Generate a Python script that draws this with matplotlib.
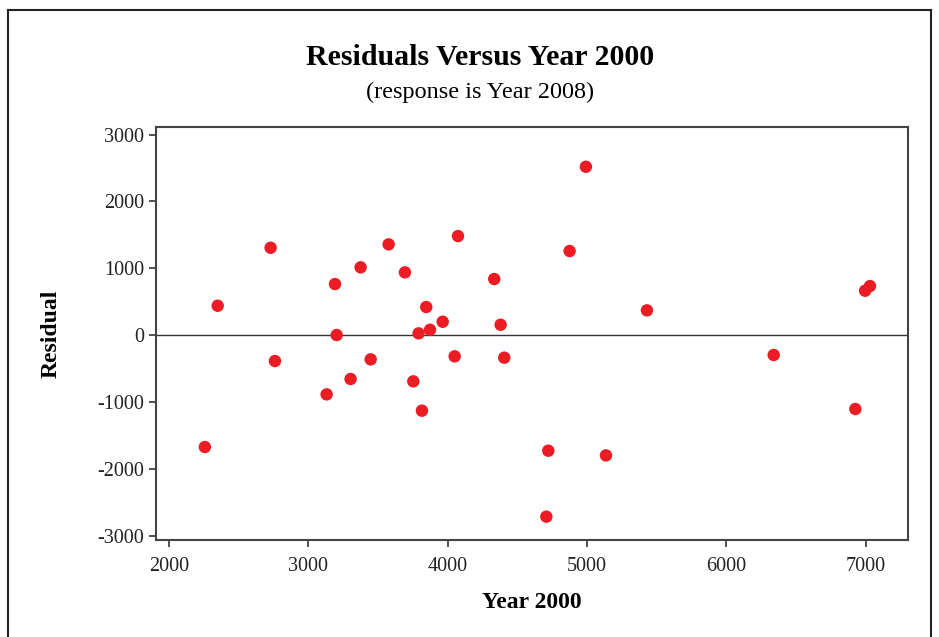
import matplotlib
matplotlib.use("Agg")
import matplotlib.pyplot as plt
from matplotlib.lines import Line2D

# Residuals
year2000 = [2258, 2350, 2730, 2761, 3132, 3192, 3204, 3304, 3376, 3448,
            3577, 3694, 3754, 3792, 3816, 3847, 3874, 3965, 4051, 4075,
            4335, 4381, 4407, 4709, 4723, 4876, 4993, 5137, 5431, 6341,
            6927, 6997, 7032]
residual = [-1676, 438, 1306, -389, -888, 763, 0, -658, 1013, -364,
            1357, 938, -693, 25, -1132, 419, 79, 199, -319, 1481,
            838, 154, -339, -2718, -1731, 1257, 2518, -1801, 369, -299,
            -1107, 663, 733]

x_ticks = [2000, 3000, 4000, 5000, 6000, 7000]
y_ticks = [-3000, -2000, -1000, 0, 1000, 2000, 3000]

plt.rcParams['font.family'] = ['Liberation Serif', 'DejaVu Serif']
plt.rcParams['axes.unicode_minus'] = False

fig = plt.figure(figsize=(9.39, 6.37), dpi=100)
ax = fig.add_axes([0.1661, 0.1523, 0.967 - 0.1661, 0.8001 - 0.1523])

ax.axhline(0, color='#333333', linewidth=1.0, zorder=1)
ax.scatter(year2000, residual, s=80, color='#ec1c24', edgecolors='none', zorder=3)

ax.set_xlim(1907, 7305)
ax.set_ylim(-3067, 3108)
ax.set_xticks(x_ticks)
ax.set_yticks(y_ticks)
ax.tick_params(direction='out', length=5, width=1.2, colors='#333333',
               labelsize=14.5, labelcolor='#222222')
ax.tick_params(axis='x', pad=7)
for s in ax.spines.values():
    s.set_color('#444444')
    s.set_linewidth(1.5)

ax.set_xlabel('Year 2000', fontsize=17, fontweight='bold', labelpad=12)
ax.set_ylabel('Residual', fontsize=17, fontweight='bold', labelpad=26)

fig.text(0.511, 0.91, 'Residuals Versus Year 2000', ha='center', va='center',
         fontsize=21.5, fontweight='bold')
fig.text(0.511, 0.855, '(response is Year 2008)', ha='center', va='center',
         fontsize=17.5)

# outer frame (open at the bottom like the cropped reference)
frame_kw = dict(color='#222222', linewidth=1.5, transform=fig.transFigure)
fig.add_artist(Line2D([0.009, 0.009], [0.0, 0.985], **frame_kw))
fig.add_artist(Line2D([0.009, 0.992], [0.985, 0.985], **frame_kw))
fig.add_artist(Line2D([0.992, 0.992], [0.0, 0.985], **frame_kw))

fig.savefig('out.png', dpi=100)
